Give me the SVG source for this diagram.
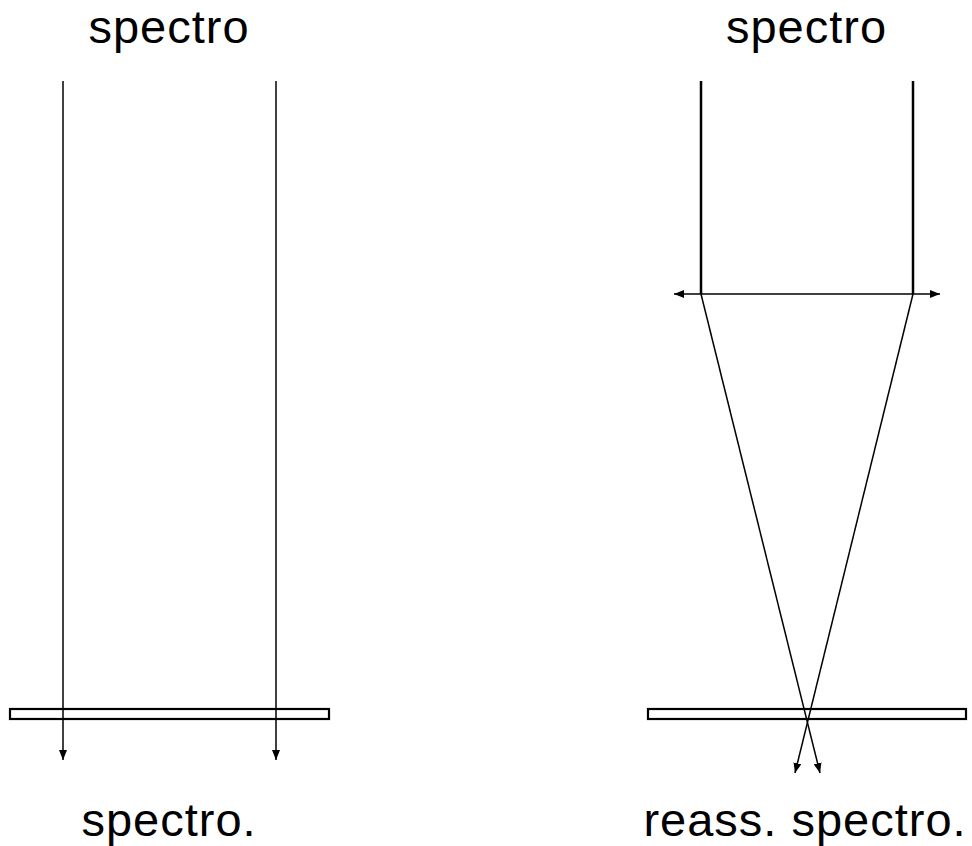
<svg xmlns="http://www.w3.org/2000/svg" width="972" height="846" viewBox="0 0 972 846">
<defs>
<style>
.t{font-family:"Liberation Sans",Arial,sans-serif;font-size:47px;letter-spacing:1px;fill:#000;text-anchor:middle}
.ray{stroke:#000;stroke-width:1.5;fill:none}
.bar{stroke:#000;stroke-width:2.2;fill:#fff}
</style>
<marker id="ah" markerWidth="10" markerHeight="8" refX="10" refY="4" orient="auto" markerUnits="userSpaceOnUse">
<path d="M0,0 L10,4 L0,8 Z" fill="#000"/>
</marker>
</defs>
<rect width="972" height="846" fill="#fff"/>
<g id="labels">
<text class="t" x="169" y="43">spectro</text>
<text class="t" x="806.5" y="43">spectro</text>
<text class="t" x="169" y="836">spectro.</text>
<text class="t" x="805" y="836">reass. spectro.</text>
</g>
<g id="sample-left"><rect class="bar" x="10" y="709" width="319" height="10"/></g>
<g id="sample-right"><rect class="bar" x="648" y="709" width="318" height="10"/></g>
<g id="connectors">
<line class="ray" x1="63" y1="81" x2="63" y2="760" marker-end="url(#ah)"/>
<line class="ray" x1="276" y1="81" x2="276" y2="760" marker-end="url(#ah)"/>
<line class="ray" style="stroke-width:2.5" x1="701" y1="81" x2="701" y2="294"/>
<line class="ray" style="stroke-width:2.5" x1="913" y1="81" x2="913" y2="294"/>
<line class="ray" x1="701" y1="294" x2="820" y2="773" marker-end="url(#ah)"/>
<line class="ray" x1="913" y1="294" x2="795" y2="773" marker-end="url(#ah)"/>
<line class="ray" x1="807" y1="294" x2="674" y2="294" marker-end="url(#ah)"/>
<line class="ray" x1="807" y1="294" x2="940" y2="294" marker-end="url(#ah)"/>
</g>
</svg>
